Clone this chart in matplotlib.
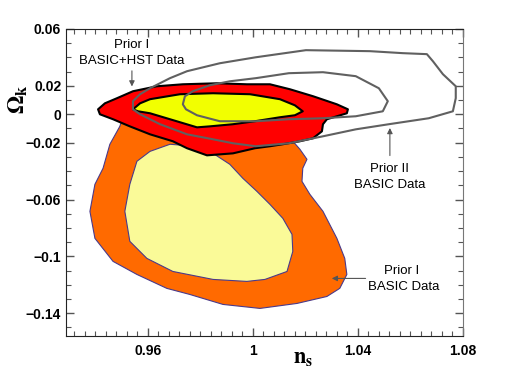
import numpy as np
import matplotlib
matplotlib.use('Agg')
import matplotlib.pyplot as plt
from matplotlib.ticker import MultipleLocator, FixedLocator

plt.rcParams['mathtext.fontset'] = 'stix'

# Prior I, BASIC data (2 sigma / 1 sigma), (n_s, Omega_k)
basic_2s_ns = [0.9512, 0.9493, 0.9455, 0.9429, 0.9398, 0.9379, 0.9398, 0.9467, 0.9558, 0.9672,
               0.9760, 0.9886, 1.0027, 1.0168, 1.0282, 1.0331, 1.0358, 1.0350, 1.0320, 1.0267,
               1.0217, 1.0187, 1.0190, 1.0206, 1.0179, 1.0103, 0.9798]
basic_2s_ok = [0.0021, -0.0085, -0.0211, -0.0380, -0.0493, -0.0683, -0.0873, -0.1035, -0.1127, -0.1225,
               -0.1268, -0.1338, -0.1366, -0.1331, -0.1282, -0.1225, -0.1127, -0.1014, -0.0873, -0.0683,
               -0.0563, -0.0472, -0.0380, -0.0317, -0.0246, -0.0085, 0.0056]
basic_1s_ns = [0.9558, 0.9531, 0.9512, 0.9531, 0.9596, 0.9695, 0.9848, 0.9977, 1.0046, 1.0130,
               1.0152, 1.0149, 1.0114, 1.0065, 1.0015, 0.9962, 0.9912, 0.9848, 0.9779, 0.9684, 0.9608]
basic_1s_ok = [-0.0331, -0.0493, -0.0683, -0.0894, -0.1014, -0.1106, -0.1162, -0.1176, -0.1162, -0.1106,
               -0.0965, -0.0845, -0.0732, -0.0634, -0.0542, -0.0451, -0.0352, -0.0275, -0.0225, -0.0211, -0.0261]

# Prior I, BASIC+HST data
hst_2s_ns = [0.9410, 0.9436, 0.9482, 0.9543, 0.9634, 0.9733, 0.9863, 0.9977, 1.0065, 1.0141,
             1.0229, 1.0320, 1.0362, 1.0358, 1.0320, 1.0282, 1.0267, 1.0263, 1.0229, 1.0179,
             1.0114, 1.0065, 1.0008, 0.9924, 0.9825, 0.9749, 0.9695, 0.9608, 0.9531, 0.9467, 0.9417]
hst_2s_ok = [0.0035, 0.0077, 0.0113, 0.0162, 0.0197, 0.0211, 0.0218, 0.0211, 0.0211, 0.0176,
             0.0127, 0.0070, 0.0035, 0.0007, -0.0014, -0.0035, -0.0070, -0.0120, -0.0169, -0.0190,
             -0.0211, -0.0225, -0.0239, -0.0275, -0.0289, -0.0239, -0.0190, -0.0141, -0.0085, -0.0035, 0.0]
hst_1s_ns = [0.9543, 0.9570, 0.9608, 0.9722, 0.9848, 0.9989, 1.0103, 1.0160, 1.0190, 1.0160,
             1.0103, 1.0008, 0.9924, 0.9836, 0.9787, 0.9760, 0.9684, 0.9608, 0.9562]
hst_1s_ok = [0.0035, 0.0077, 0.0106, 0.0141, 0.0148, 0.0141, 0.0106, 0.0063, 0.0021, -0.0007,
             -0.0021, -0.0049, -0.0070, -0.0085, -0.0092, -0.0077, -0.0035, 0.0007, 0.0021]

# Prior II, BASIC data (outlines)
p2_2s_ns = [0.9543, 0.9543, 0.9570, 0.9608, 0.9684, 0.9749, 0.9874, 1.0011, 1.0202, 1.0446,
            1.0571, 1.0663, 1.0686, 1.0724, 1.0773, 1.0773, 1.0762, 1.0670, 1.0518, 1.0392,
            1.0267, 1.0137, 1.0011, 0.9924, 0.9848, 0.9749, 0.9646, 0.9570]
p2_2s_ok = [0.0035, 0.0092, 0.0141, 0.0183, 0.0254, 0.0303, 0.0359, 0.0401, 0.0451, 0.0444,
            0.0430, 0.0423, 0.0373, 0.0282, 0.0197, 0.0113, 0.0021, -0.0028, -0.0070, -0.0106,
            -0.0155, -0.0204, -0.0225, -0.0204, -0.0176, -0.0141, -0.0070, 0.0]
p2_1s_ns = [0.9733, 0.9741, 0.9771, 0.9836, 0.9912, 1.0011, 1.0137, 1.0267, 1.0392, 1.0480,
            1.0514, 1.0495, 1.0392, 1.0267, 1.0137, 1.0011, 0.9874, 0.9787, 0.9745]
p2_1s_ok = [0.0070, 0.0127, 0.0162, 0.0204, 0.0232, 0.0254, 0.0289, 0.0296, 0.0268, 0.0183,
            0.0092, 0.0021, -0.0014, -0.0028, -0.0035, -0.0049, -0.0049, -0.0007, 0.0035]

xticks = [0.96, 1.0, 1.04, 1.08]
xtick_labels = ['0.96', '1', '1.04', '1.08']
yticks = [0.06, 0.02, 0.0, -0.02, -0.06, -0.1, -0.14]
ytick_labels = ['0.06', '0.02', '0', '\u22120.02', '\u22120.06', '\u22120.1', '\u22120.14']

fig = plt.figure(figsize=(5.12, 3.79), dpi=100)
ax = fig.add_axes([0.129, 0.1135, 0.775, 0.81])

edge = '#4a3a8a'
ax.fill(basic_2s_ns, basic_2s_ok, color='#ff6a00', ec=edge, lw=0.8, joinstyle='round', zorder=1)
ax.fill(basic_1s_ns, basic_1s_ok, color='#fafa98', ec=edge, lw=0.8, joinstyle='round', zorder=2)
ax.fill(hst_2s_ns, hst_2s_ok, color='#ff0000', ec='black', lw=1.5, joinstyle='round', zorder=3)
ax.fill(hst_1s_ns, hst_1s_ok, color='#f2ff00', ec='black', lw=1.5, joinstyle='round', zorder=4)
ax.fill(p2_2s_ns, p2_2s_ok, fill=False, ec='#606060', lw=1.5, joinstyle='round', zorder=5)
ax.fill(p2_1s_ns, p2_1s_ok, fill=False, ec='#606060', lw=1.5, joinstyle='round', zorder=5)

# annotations
afont = dict(family='Liberation Sans', size=9.5, ha='center', va='center')
arr = dict(arrowstyle='-|>', color='#555555', lw=0.8, mutation_scale=8)
ax.text(0.9539, 0.0490, 'Prior I', **afont)
ax.text(0.9539, 0.0375, 'BASIC+HST Data', **afont)
ax.annotate('', xy=(0.9539, 0.0176), xytext=(0.9539, 0.0325), arrowprops=arr)
ax.text(1.0522, -0.0385, 'Prior II', **afont)
ax.text(1.0522, -0.0500, 'BASIC Data', **afont)
ax.annotate('', xy=(1.0522, -0.0077), xytext=(1.0522, -0.0310), arrowprops=arr)
ax.text(1.0568, -0.1100, 'Prior I', **afont)
ax.text(1.0575, -0.1215, 'BASIC Data', **afont)
ax.annotate('', xy=(1.0290, -0.1155), xytext=(1.0440, -0.1155), arrowprops=arr)

ax.set_xlim(0.9288, 1.08)
ax.set_ylim(-0.156, 0.06)
ax.xaxis.set_major_locator(FixedLocator(xticks))
ax.set_xticklabels(xtick_labels)
ax.xaxis.set_minor_locator(MultipleLocator(0.004))
ax.yaxis.set_major_locator(FixedLocator(yticks))
ax.set_yticklabels(ytick_labels)
ax.yaxis.set_minor_locator(MultipleLocator(0.01))
ax.tick_params(which='both', direction='in', top=True, right=True, color='#555555')
ax.tick_params(which='major', length=6, width=1)
ax.tick_params(which='minor', length=3.5, width=0.8)
for lab in ax.get_xticklabels() + ax.get_yticklabels():
    lab.set_family('Liberation Sans')
    lab.set_fontweight('bold')
    lab.set_fontsize(10)
ax.tick_params(axis='x', pad=6)
for s in ['left', 'bottom', 'top']:
    ax.spines[s].set_color('#222222')
ax.spines['right'].set_color('#777777')

ax.text(0.597, -0.075, r'$\mathbf{n_s}$', transform=ax.transAxes, fontsize=16, ha='center', va='center')
ax.text(-0.12, 0.77, r'$\mathbf{\Omega_k}$', transform=ax.transAxes, fontsize=17, rotation=90,
        ha='center', va='center')

fig.savefig('out.png', dpi=100)
